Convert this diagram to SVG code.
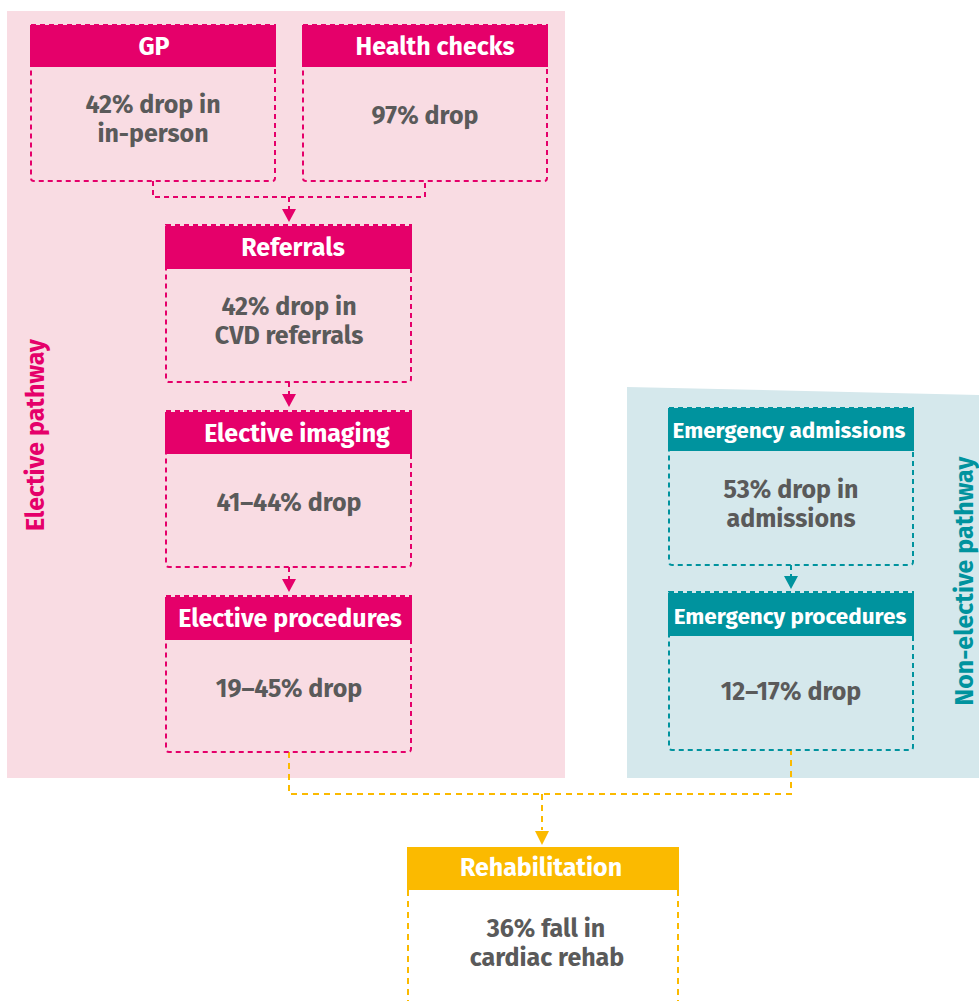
<svg xmlns="http://www.w3.org/2000/svg" width="979" height="1001" viewBox="0 0 979 1001">
<defs>
<style>
.hdr{font-family:"Fira Sans","Noto Sans","Open Sans",sans-serif;font-weight:700;font-size:25px;fill:#fff;text-anchor:middle}
.body{font-family:"Fira Sans","Noto Sans","Open Sans",sans-serif;font-weight:700;font-size:25px;fill:#5a5a5a;text-anchor:middle}
.pk{stroke:#e5006a;stroke-width:2;fill:none;stroke-dasharray:5 4}
.tl{stroke:#00939e;stroke-width:2;fill:none;stroke-dasharray:5 4}
.yl{stroke:#fbba00;stroke-width:2;fill:none;stroke-dasharray:6 5}
.pkf{fill:#e5006a}
.tlf{fill:#00939e}
.ylf{fill:#fbba00}
.lbl{font-family:"Fira Sans","Noto Sans","Open Sans",sans-serif;font-weight:700;font-size:25px;text-anchor:middle}
</style>
</defs>
<rect x="0" y="0" width="979" height="1001" fill="#fff"/>
<g id="elective-panel">
<rect x="7" y="11" width="558" height="767" fill="#f9dce3"/>
<text class="lbl" fill="#e5006a" transform="translate(44,435) rotate(-90)">Elective pathway</text>
</g>
<g id="nonelective-panel">
<polygon points="627,387 979,395 979,778 627,778" fill="#d5e8ec"/>
<text class="lbl" fill="#00939e" transform="translate(973,581) rotate(-90)">Non-elective pathway</text>
</g>
<g id="connectors">
<path class="pk" d="M153,181 V197 H425 V181"/>
<path class="pk" d="M289,197 V210"/>
<polygon class="pkf" points="282,209 296,209 289,222"/>
<path class="pk" d="M289,382 V395"/>
<polygon class="pkf" points="282,394 296,394 289,407"/>
<path class="pk" d="M289,567 V580"/>
<polygon class="pkf" points="282,579 296,579 289,592"/>
<path class="tl" d="M791,565 V577"/>
<polygon class="tlf" points="784,576 798,576 791,589"/>
<path class="yl" d="M289,752 V794 H791 V750"/>
<path class="yl" d="M542,794 V830"/>
<polygon class="ylf" points="535,831 549,831 542,845"/>
</g>
<g id="gp">
<path class="pk" d="M31,25 H275 V178 Q275,181 272,181 H34 Q31,181 31,178 Z"/>
<rect class="pkf" x="30" y="25" width="246" height="42"/>
<text class="hdr" x="154" y="55">GP</text>
<text class="body" x="153" y="113">42% drop in</text>
<text class="body" x="153" y="142">in-person</text>
</g>
<g id="health-checks">
<path class="pk" d="M303,25 H547 V178 Q547,181 544,181 H306 Q303,181 303,178 Z"/>
<rect class="pkf" x="302" y="25" width="246" height="42"/>
<text class="hdr" x="435" y="55">Health checks</text>
<text class="body" x="425" y="124">97% drop</text>
</g>
<g id="referrals">
<path class="pk" d="M166,225 H411 V379 Q411,382 408,382 H169 Q166,382 166,379 Z"/>
<rect class="pkf" x="165" y="226" width="247" height="43"/>
<text class="hdr" x="293" y="256">Referrals</text>
<text class="body" x="289" y="315">42% drop in</text>
<text class="body" x="289" y="344">CVD referrals</text>
</g>
<g id="elective-imaging">
<path class="pk" d="M166,411 H411 V564 Q411,567 408,567 H169 Q166,567 166,564 Z"/>
<rect class="pkf" x="165" y="412" width="247" height="42"/>
<text class="hdr" x="297" y="442">Elective imaging</text>
<text class="body" x="289" y="511">41–44% drop</text>
</g>
<g id="elective-procedures">
<path class="pk" d="M166,596 H411 V749 Q411,752 408,752 H169 Q166,752 166,749 Z"/>
<rect class="pkf" x="165" y="597" width="247" height="43"/>
<text class="hdr" x="290" y="627">Elective procedures</text>
<text class="body" x="289" y="697">19–45% drop</text>
</g>
<g id="emergency-admissions">
<path class="tl" d="M669,408 H913 V562 Q913,565 910,565 H672 Q669,565 669,562 Z"/>
<rect class="tlf" x="668" y="408" width="246" height="43"/>
<text class="hdr" x="789" y="438" style="font-size:22.5px">Emergency admissions</text>
<text class="body" x="791" y="498">53% drop in</text>
<text class="body" x="791" y="527">admissions</text>
</g>
<g id="emergency-procedures">
<path class="tl" d="M669,592 H913 V747 Q913,750 910,750 H672 Q669,750 669,747 Z"/>
<rect class="tlf" x="668" y="593" width="246" height="43"/>
<text class="hdr" x="790" y="624" style="font-size:22.5px">Emergency procedures</text>
<text class="body" x="791" y="700">12–17% drop</text>
</g>
<g id="rehabilitation">
<path class="yl" d="M408,890 V1001 M678,890 V1001"/>
<rect class="ylf" x="407" y="847" width="272" height="43"/>
<text class="hdr" x="541" y="876">Rehabilitation</text>
<text class="body" x="546" y="937">36% fall in</text>
<text class="body" x="547" y="966">cardiac rehab</text>
</g>
</svg>
